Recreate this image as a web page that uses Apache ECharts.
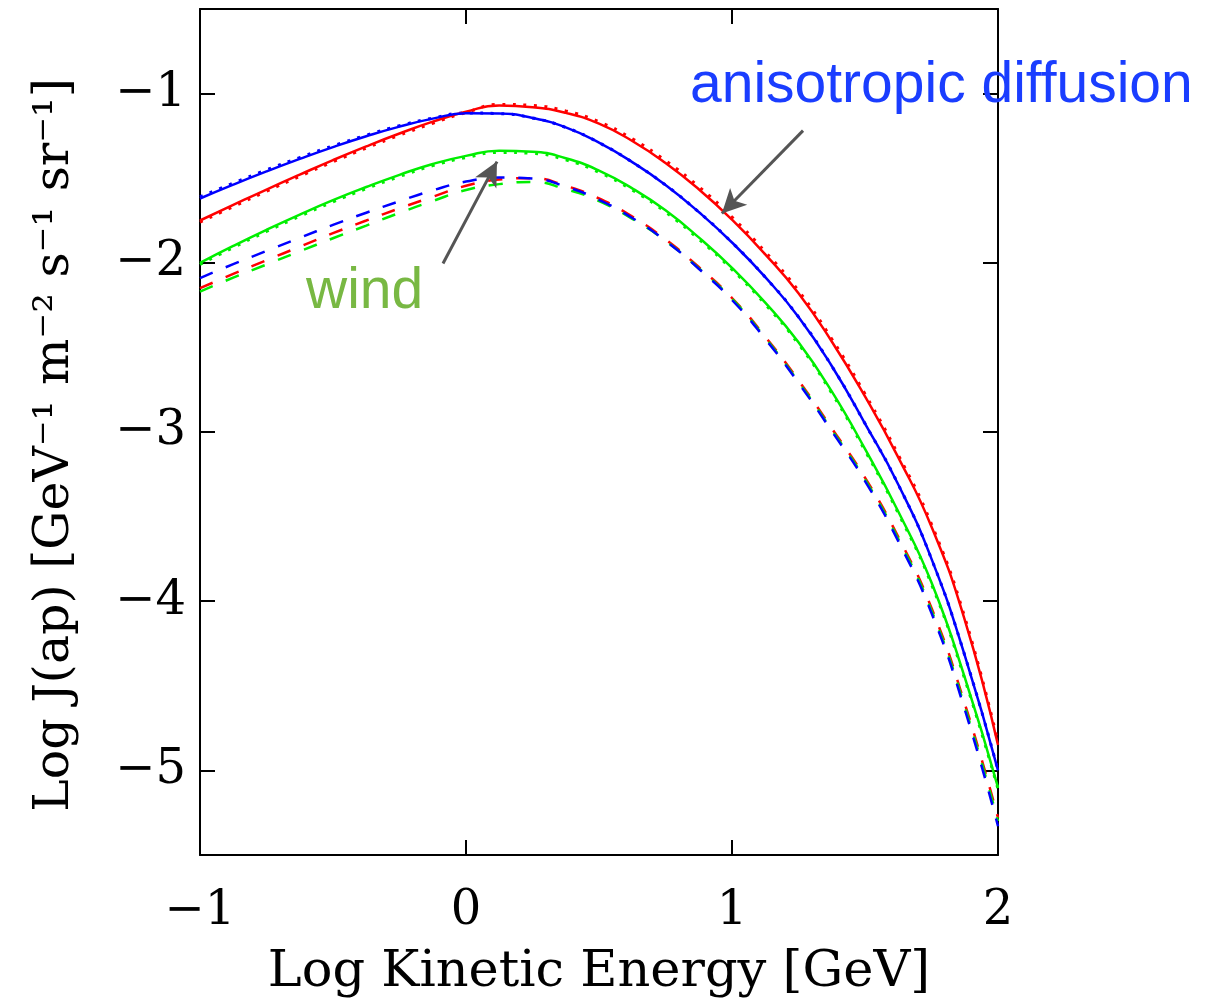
<!DOCTYPE html>
<html>
<head>
<meta charset="utf-8">
<script src="https://cdn.jsdelivr.net/npm/echarts@6/dist/echarts.min.js"></script>
<style>
html,body{margin:0;padding:0;background:#fff;}
#chart{width:1222px;height:1003px;}
</style>
</head>
<body>
<div id="chart"></div>
<script>
// ---- data (every 0.125 in log E) ----
const xs = [-1, -0.875, -0.75, -0.625, -0.5, -0.375, -0.25, -0.125, 0, 0.125, 0.25, 0.375, 0.5,
            0.625, 0.75, 0.875, 1, 1.125, 1.25, 1.375, 1.5, 1.625, 1.75, 1.875, 2];

const redSolid   = [-1.750, -1.658, -1.567, -1.479, -1.393, -1.312, -1.236, -1.166, -1.107, -1.071, -1.080, -1.114, -1.178,
                    -1.280, -1.410, -1.565, -1.745, -1.950, -2.180, -2.465, -2.790, -3.150, -3.560, -4.110, -4.850];
const redDotted  = [-1.760, -1.668, -1.577, -1.489, -1.403, -1.322, -1.246, -1.175, -1.112, -1.064, -1.070, -1.103, -1.166,
                    -1.267, -1.396, -1.550, -1.730, -1.935, -2.165, -2.450, -2.775, -3.135, -3.545, -4.095, -4.835];
const redDashed  = [-2.150, -2.066, -1.985, -1.905, -1.825, -1.750, -1.678, -1.610, -1.545, -1.508, -1.500, -1.545, -1.620,
                    -1.727, -1.862, -2.025, -2.208, -2.437, -2.695, -2.978, -3.270, -3.620, -4.040, -4.605, -5.280];

const blueSolid  = [-1.620, -1.538, -1.460, -1.386, -1.316, -1.252, -1.195, -1.148, -1.116, -1.118, -1.144, -1.200, -1.290,
                    -1.405, -1.540, -1.700, -1.880, -2.085, -2.320, -2.610, -2.950, -3.310, -3.750, -4.320, -5.000];
const blueDotted = [-1.610, -1.529, -1.451, -1.378, -1.309, -1.246, -1.190, -1.145, -1.115, -1.118, -1.144, -1.200, -1.290,
                    -1.405, -1.540, -1.700, -1.880, -2.085, -2.320, -2.610, -2.950, -3.310, -3.750, -4.320, -5.000];
const blueDashed = [-2.090, -2.008, -1.930, -1.852, -1.776, -1.704, -1.636, -1.572, -1.520, -1.496, -1.502, -1.550, -1.628,
                    -1.735, -1.870, -2.035, -2.220, -2.450, -2.710, -2.995, -3.290, -3.645, -4.070, -4.640, -5.330];

const greenSolid  = [-2.000, -1.900, -1.805, -1.715, -1.630, -1.552, -1.480, -1.416, -1.368, -1.338, -1.343, -1.382, -1.455,
                     -1.560, -1.690, -1.850, -2.030, -2.235, -2.470, -2.760, -3.100, -3.470, -3.890, -4.450, -5.100];
const greenDotted = [-2.010, -1.910, -1.815, -1.725, -1.640, -1.562, -1.490, -1.426, -1.378, -1.348, -1.353, -1.392, -1.465,
                     -1.570, -1.700, -1.860, -2.040, -2.245, -2.480, -2.770, -3.110, -3.480, -3.900, -4.460, -5.110];
const greenDashed = [-2.170, -2.088, -2.010, -1.932, -1.855, -1.780, -1.705, -1.635, -1.570, -1.535, -1.522, -1.565, -1.635,
                     -1.740, -1.870, -2.032, -2.213, -2.443, -2.703, -2.987, -3.280, -3.632, -4.055, -4.622, -5.300];

const xTicks = [-1, 0, 1, 2];
const yTicks = [-5, -4, -3, -2, -1];

// annotation arrows in data coordinates: [startX, startY, tipX, tipY]
const anisoArrow = [1.267, -1.219, 0.962, -1.709];
const windArrow  = [-0.0865, -2.004, 0.1165, -1.402];

const xTitle = 'Log Kinetic Energy [GeV]';
const yTitle = 'Log J(ap) [GeV\u207B\u00B9 m\u207B\u00B2 s\u207B\u00B9 sr\u207B\u00B9]';

// ---- chart ----
const RED = '#ff0000', BLUE = '#0000ff', GREEN = '#00ee00';
const AXFONT = "'DejaVu Serif', serif";
const fmt = v => (v < 0 ? '\u2212' + Math.abs(v) : String(v));
const pts = arr => xs.map((x, i) => [x, arr[i]]);

function mk(name, arr, color, type, width, z) {
  return {
    name, type: 'line', data: pts(arr), showSymbol: false, symbol: 'none',
    smooth: 0.5, z: z,
    lineStyle: { color, width, type, cap: 'butt' }, silent: true
  };
}

const series = [
  mk('redDashed', redDashed, RED, [14, 14], 2.5, 2),
  mk('greenDashed', greenDashed, GREEN, [14, 14], 2.5, 2),
  mk('blueDashed', blueDashed, BLUE, [14, 14], 2.5, 2),
  mk('redDotted', redDotted, RED, [3, 7.5], 3, 3),
  mk('greenDotted', greenDotted, GREEN, [3, 7.5], 3, 3),
  mk('blueDotted', blueDotted, BLUE, [3, 7.5], 3, 3),
  mk('greenSolid', greenSolid, GREEN, 'solid', 2.5, 4),
  mk('redSolid', redSolid, RED, 'solid', 2.5, 4),
  mk('blueSolid', blueSolid, BLUE, 'solid', 2.5, 4)
];
series[8].markLine = {
  silent: true, animation: false,
  symbol: ['none', 'arrow'], symbolSize: [18, 24],
  label: { show: false },
  lineStyle: { color: '#555', width: 3, type: 'solid' },
  data: [
    [{ coord: [anisoArrow[0], anisoArrow[1]] }, { coord: [anisoArrow[2], anisoArrow[3]] }],
    [{ coord: [windArrow[0], windArrow[1]] }, { coord: [windArrow[2], windArrow[3]] }]
  ]
};

const axisLine = { show: true, onZero: false, lineStyle: { color: '#000', width: 2 } };
const tick = { show: true, inside: true, length: 15, lineStyle: { color: '#000', width: 2 } };

const option = {
  animation: false,
  backgroundColor: '#fff',
  grid: { left: 200, right: 224, top: 9, bottom: 148, containLabel: false },
  xAxis: [
    { type: 'value', position: 'bottom', min: -1, max: 2, interval: 1,
      axisLine, axisTick: tick, splitLine: { show: false },
      axisLabel: { color: '#000', fontFamily: AXFONT, fontSize: 48, margin: 33, formatter: fmt },
      name: xTitle, nameLocation: 'middle', nameGap: 92,
      nameTextStyle: { color: '#000', fontFamily: AXFONT, fontSize: 51 } },
    { type: 'value', position: 'top', min: -1, max: 2, interval: 1,
      axisLine, axisTick: tick, splitLine: { show: false }, axisLabel: { show: false } }
  ],
  yAxis: [
    { type: 'value', position: 'left', min: -5.5, max: -0.5,
      axisLine, axisTick: Object.assign({ customValues: yTicks }, tick), splitLine: { show: false },
      axisLabel: { customValues: yTicks, color: '#000', fontFamily: AXFONT, fontSize: 48, margin: 14, formatter: fmt },
      name: yTitle, nameLocation: 'middle', nameGap: 120,
      nameTextStyle: { color: '#000', fontFamily: AXFONT, fontSize: 49, padding: [0, 26, 0, 0] } },
    { type: 'value', position: 'right', min: -5.5, max: -0.5,
      axisLine, axisTick: Object.assign({ customValues: yTicks }, tick), splitLine: { show: false },
      axisLabel: { show: false } }
  ],
  graphic: [
    { type: 'text', left: 690, top: 58, z: 100,
      style: { text: 'anisotropic diffusion', fill: '#1a3dff', font: "57px 'Liberation Sans', Arial, sans-serif" } },
    { type: 'text', left: 306, top: 264, z: 100,
      style: { text: 'wind', fill: '#78b843', font: "57px 'Liberation Sans', Arial, sans-serif" } }
  ],
  series
};

const chart = echarts.init(document.getElementById('chart'), null, { renderer: 'canvas' });
chart.setOption(option);
</script>
</body>
</html>
